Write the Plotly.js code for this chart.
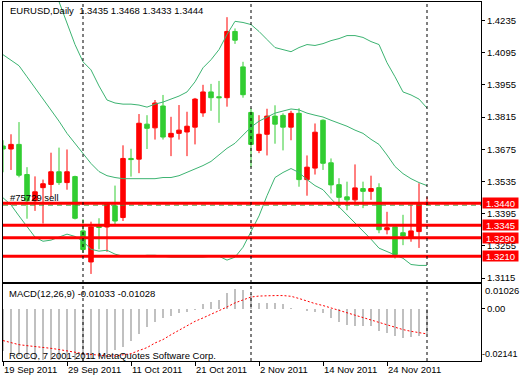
<!DOCTYPE html>
<html><head><meta charset="utf-8">
<script src="https://cdn.plot.ly/plotly-3.0.1.min.js"></script>
<style>html,body{margin:0;padding:0;background:#fff}#chart{width:520px;height:380px}</style>
</head><body><div id="chart"></div>
<script>
const dates = ['2011-09-19','2011-09-20','2011-09-21','2011-09-22','2011-09-23','2011-09-26','2011-09-27','2011-09-28','2011-09-29','2011-09-30',
'2011-10-03','2011-10-04','2011-10-05','2011-10-06','2011-10-07','2011-10-10','2011-10-11','2011-10-12','2011-10-13','2011-10-14',
'2011-10-17','2011-10-18','2011-10-19','2011-10-20','2011-10-21','2011-10-24','2011-10-25','2011-10-26','2011-10-27','2011-10-28',
'2011-10-31','2011-11-01','2011-11-02','2011-11-03','2011-11-04','2011-11-07','2011-11-08','2011-11-09','2011-11-10','2011-11-11',
'2011-11-14','2011-11-15','2011-11-16','2011-11-17','2011-11-18','2011-11-21','2011-11-22','2011-11-23','2011-11-24','2011-11-25',
'2011-11-28','2011-11-29','2011-11-30','2011-12-01'];
const open = [1.3689,1.3676,1.3696,1.3565,1.3451,1.3508,1.3522,1.3577,1.3530,1.3556,
1.3320,1.3185,1.3340,1.3337,1.3429,1.3378,1.3635,1.3632,1.3784,1.3768,
1.3863,1.3728,1.3744,1.3750,1.3771,1.3833,1.3924,1.3903,1.3899,1.4187,
1.4033,1.3835,1.3670,1.3740,1.3819,1.3822,1.3771,1.3831,1.3543,1.3593,
1.3801,1.3616,1.3521,1.3468,1.3455,1.3504,1.3492,1.3508,1.3325,1.3338,
1.3312,1.3293,1.3317,1.3435];
const high = [1.3714,1.3740,1.3793,1.3597,1.3557,1.3543,1.3660,1.3682,1.3674,1.3560,
1.3371,1.3360,1.3375,1.3444,1.3517,1.3692,1.3677,1.3828,1.3823,1.3889,
1.3911,1.3816,1.3867,1.3838,1.3898,1.3955,1.3959,1.3972,1.4249,1.4200,
1.4055,1.3853,1.3823,1.3851,1.3866,1.3831,1.3842,1.3853,1.3648,1.3787,
1.3805,1.3635,1.3549,1.3534,1.3609,1.3534,1.3560,1.3527,1.3403,1.3340,
1.3390,1.3433,1.3527,1.3468];
const low = [1.3575,1.3585,1.3553,1.3373,1.3407,1.3352,1.3465,1.3520,1.3499,1.3370,
1.3225,1.3133,1.3240,1.3229,1.3349,1.3363,1.3556,1.3571,1.3676,1.3717,
1.3717,1.3645,1.3717,1.3645,1.3696,1.3816,1.3842,1.3790,1.3860,1.4133,
1.3899,1.3597,1.3658,1.3648,1.3699,1.3670,1.3714,1.3512,1.3473,1.3565,
1.3585,1.3483,1.3419,1.3410,1.3437,1.3419,1.3455,1.3310,1.3305,1.3200,
1.3258,1.3273,1.3246,1.3433];
const close = [1.3676,1.3696,1.3562,1.3451,1.3490,1.3525,1.3577,1.3530,1.3577,1.3375,
1.3239,1.3337,1.3335,1.3437,1.3363,1.3635,1.3630,1.3788,1.3766,1.3876,
1.3728,1.3744,1.3758,1.3775,1.3893,1.3924,1.3899,1.3899,1.4187,1.4149,
1.3912,1.3696,1.3740,1.3819,1.3784,1.3771,1.3831,1.3543,1.3597,1.3749,
1.3614,1.3520,1.3466,1.3455,1.3507,1.3492,1.3504,1.3325,1.3334,1.3217,
1.3298,1.3320,1.3435,1.3444];
const bbUpper = [1.4708,1.4687,1.4691,1.4643,1.4591,1.4503,1.4410,1.4310,1.4215,1.4130,
1.4055,1.4020,1.3950,1.3889,1.3876,1.3871,1.3871,1.3867,1.3858,1.3871,
1.3880,1.3893,1.3906,1.3924,1.3968,1.4029,1.4064,1.4108,1.4174,1.4231,
1.4226,1.4217,1.4187,1.4152,1.4117,1.4108,1.4099,1.4117,1.4130,1.4126,
1.4134,1.4147,1.4156,1.4169,1.4169,1.4161,1.4143,1.4130,1.4051,1.3990,
1.3924,1.3911,1.3893,1.3854];
const bbMiddle = [1.4086,1.4060,1.4038,1.3990,1.3942,1.3889,1.3845,1.3797,1.3744,1.3701,
1.3657,1.3613,1.3578,1.3560,1.3552,1.3547,1.3547,1.3547,1.3547,1.3547,
1.3552,1.3552,1.3560,1.3574,1.3587,1.3604,1.3622,1.3652,1.3679,1.3701,
1.3736,1.3771,1.3797,1.3815,1.3832,1.3841,1.3850,1.3846,1.3832,1.3823,
1.3815,1.3801,1.3788,1.3775,1.3758,1.3744,1.3718,1.3696,1.3650,1.3600,
1.3569,1.3547,1.3530,1.3517];
const bbLower = [1.3464,1.3433,1.3385,1.3337,1.3293,1.3275,1.3280,1.3293,1.3306,1.3296,
1.3275,1.3240,1.3232,1.3236,1.3219,1.3210,1.3210,1.3210,1.3214,1.3214,
1.3210,1.3206,1.3206,1.3206,1.3206,1.3206,1.3210,1.3210,1.3193,1.3206,
1.3249,1.3315,1.3385,1.3473,1.3552,1.3574,1.3591,1.3574,1.3543,1.3517,
1.3499,1.3460,1.3425,1.3390,1.3355,1.3320,1.3284,1.3245,1.3230,1.3214,
1.3201,1.3174,1.3170,1.3170];
const macdMain = [-0.0175,-0.0185,-0.0195,-0.0203,-0.0208,-0.0210,-0.0210,-0.0212,-0.0208,-0.0211,
-0.0214,-0.0205,-0.0196,-0.0184,-0.0170,-0.0155,-0.0130,-0.0102,-0.0074,-0.0054,
-0.0036,-0.0027,-0.0018,-0.0011,-0.0004,0.0022,0.0030,0.0038,0.0065,0.0083,
0.0079,0.0060,0.0024,0.0024,0.0024,0.0022,0.0005,-0.0002,-0.0008,-0.0013,
-0.0016,-0.0037,-0.0053,-0.0067,-0.0071,-0.0071,-0.0071,-0.0092,-0.0099,-0.0112,
-0.0120,-0.0115,-0.0112,-0.01033];
const macdSignal = [-0.0130,-0.0140,-0.0147,-0.0151,-0.0154,-0.0158,-0.0162,-0.0167,-0.0171,-0.0178,
-0.0184,-0.0188,-0.0192,-0.0193,-0.0193,-0.0189,-0.0184,-0.0171,-0.0159,-0.0140,
-0.0126,-0.0106,-0.0088,-0.0071,-0.0051,-0.0037,-0.0023,-0.0008,0.0008,0.0025,
0.0036,0.0049,0.0053,0.0055,0.0055,0.0055,0.0052,0.0043,0.0032,0.0022,
0.0014,0.0004,-0.0005,-0.0016,-0.0027,-0.0036,-0.0044,-0.0055,-0.0066,-0.0074,
-0.0085,-0.0092,-0.0096,-0.01028];
const levels = [1.3440, 1.3345, 1.3290, 1.3210];
const orderPrice = 1.3432;
const orderLabel = '#75729 sell';
const separators = ['2011-10-03','2011-11-01','2011-12-01'];
const priceTicks = [1.4235,1.4095,1.3955,1.3815,1.3675,1.3535,1.3395,1.3255,1.3115];
const dateTickVals = ['2011-09-19','2011-09-29','2011-10-11','2011-10-21','2011-11-02','2011-11-14','2011-11-24'];
const dateTickText = ['19 Sep 2011','29 Sep 2011','11 Oct 2011','21 Oct 2011','2 Nov 2011','14 Nov 2011','24 Nov 2011'];
const macdScale = [0.01026, 0, -0.02141];
const macdScaleText = ['0.01026','0.00','-0.02141'];
const symbolText = 'EURUSD,Daily';
const copyrightText = 'ROCO, 7 2001-2011 MetaQuotes Software Corp.';

const FONT = 'Liberation Sans, Arial, sans-serif';
const FS = 9.5;
const BB = '#3cb371';
const last = dates.length - 1;

const traces = [
  {type:'scatter', mode:'lines', x:dates, y:bbUpper, xaxis:'x', yaxis:'y', line:{color:BB,width:1}, hoverinfo:'skip'},
  {type:'scatter', mode:'lines', x:dates, y:bbMiddle, xaxis:'x', yaxis:'y', line:{color:BB,width:1}, hoverinfo:'skip'},
  {type:'scatter', mode:'lines', x:dates, y:bbLower, xaxis:'x', yaxis:'y', line:{color:BB,width:1}, hoverinfo:'skip'},
  {type:'candlestick', x:dates, open:open, high:high, low:low, close:close, xaxis:'x', yaxis:'y',
   increasing:{line:{color:'#ff0000',width:1}, fillcolor:'#ff0000'},
   decreasing:{line:{color:'#32cd32',width:1}, fillcolor:'#32cd32'},
   whiskerwidth:0, hoverinfo:'skip'},
  {type:'bar', x:dates, y:macdMain, xaxis:'x2', yaxis:'y2', width:0.14, marker:{color:'#c0c0c0', line:{width:0}}, hoverinfo:'skip'},
  {type:'scatter', mode:'lines', x:dates, y:macdSignal, xaxis:'x2', yaxis:'y2', line:{color:'#ff0000',width:1,dash:'2px,2px'}, hoverinfo:'skip'}
];

const shapes = [];
shapes.push({type:'line', xref:'paper', yref:'y', x0:0, x1:1, y0:orderPrice, y1:orderPrice, line:{color:'#3a9e3a', width:1, dash:'5px,4px'}});
levels.forEach(v => shapes.push({type:'line', xref:'paper', yref:'y', x0:0, x1:1, y0:v, y1:v, line:{color:'#ff0000', width:3}}));
separators.forEach(d => shapes.push({type:'line', xref:'x', yref:'paper', x0:d, x1:d, y0:0, y1:1, line:{color:'#000', width:1, dash:'3px,3px'}}));

const annotations = [];
const f = (c) => ({family:FONT, size:FS, color:c||'#000'});
annotations.push({xref:'paper', yref:'paper', x:0.0105, y:0.975, xanchor:'left', yanchor:'middle', showarrow:false, font:f('#000'),
  text: symbolText + '  ' + [open[last],high[last],low[last],close[last]].map(v=>v.toFixed(4)).join(' ')});
annotations.push({xref:'paper', yref:'y', x:0.0105, y:levels[0], xanchor:'left', yanchor:'bottom', yshift:-2, showarrow:false, font:f('#000'), text:orderLabel});
annotations.push({xref:'paper', yref:'paper', x:0.0084, y:0.1894, xanchor:'left', yanchor:'middle', showarrow:false, font:f('#000'),
  text:'MACD(12,26,9) ' + macdMain[last].toFixed(5) + ' ' + macdSignal[last].toFixed(5)});
annotations.push({xref:'paper', yref:'paper', x:0.0084, y:0.0167, xanchor:'left', yanchor:'middle', showarrow:false, font:f('#000'), text:copyrightText});
annotations.push({xref:'paper', yref:'y2', x:1, y:macdScale[0], xanchor:'left', yanchor:'top', xshift:2, yshift:1, showarrow:false, font:f('#000'), text:macdScaleText[0]});
annotations.push({xref:'paper', yref:'y2', x:1, y:macdScale[2], xanchor:'left', yanchor:'bottom', xshift:-1, yshift:0, showarrow:false, font:{family:FONT, size:9, color:'#000'}, text:macdScaleText[2]});
levels.forEach(v => annotations.push({xref:'paper', yref:'y', x:1, y:v, xanchor:'left', yanchor:'middle', xshift:1, showarrow:false,
  text:v.toFixed(4), bgcolor:'#ff0000', font:f('#ffffff'), borderpad:1, width:33, height:8}));

const axBase = {showline:true, mirror:true, linecolor:'#000', linewidth:1, showgrid:false, zeroline:false, fixedrange:true};
const layout = {
  width:520, height:380, margin:{l:3, r:39, t:2, b:19, pad:0},
  paper_bgcolor:'#fff', plot_bgcolor:'#fff', showlegend:false,
  boxgap:0.25, boxgroupgap:0.25, bargap:0,
  font:{family:FONT, size:FS, color:'#000'},
  xaxis:Object.assign({}, axBase, {type:'category', categoryarray:dates, range:[0,59.75], anchor:'y', showticklabels:false, ticks:'', rangeslider:{visible:false}}),
  yaxis:Object.assign({}, axBase, {domain:[0.2214,1], range:[1.3100,1.4315], side:'right', anchor:'x', tickvals:priceTicks, ticktext:priceTicks.map(v=>v.toFixed(4)), ticks:'outside', ticklen:3, tickcolor:'#000', tickfont:f('#000')}),
  xaxis2:Object.assign({}, axBase, {type:'category', categoryarray:dates, range:[0,59.75], anchor:'y2', tickvals:dateTickVals, ticktext:dateTickText, ticks:'outside', ticklen:4, tickcolor:'#000', ticklabelposition:'outside right', tickfont:f('#000')}),
  yaxis2:Object.assign({}, axBase, {domain:[0,0.2145], range:[macdScale[2], macdScale[0]], side:'right', anchor:'x2', tickvals:[macdScale[1]], ticktext:[macdScaleText[1]], ticks:'outside', ticklen:3, tickcolor:'#000', tickfont:f('#000')}),
  shapes:shapes, annotations:annotations
};
Plotly.newPlot('chart', traces, layout, {staticPlot:true, displayModeBar:false});
</script></body></html>
